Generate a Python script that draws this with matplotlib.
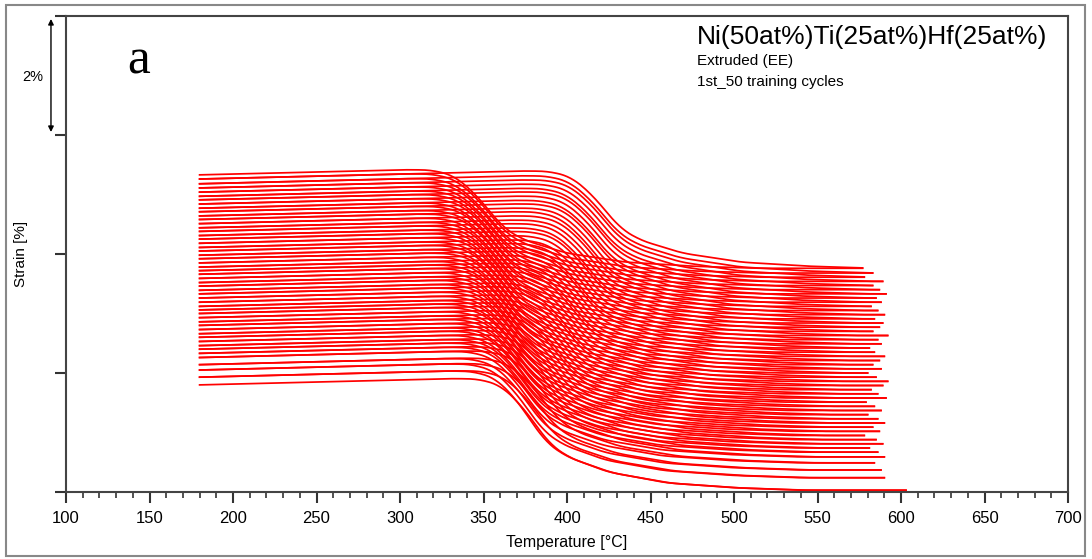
import numpy as np
import matplotlib
matplotlib.use("Agg")
import matplotlib.pyplot as plt
import matplotlib.transforms as mtransforms
from matplotlib.patches import Rectangle

plt.rcParams['font.family'] = ['Liberation Sans', 'DejaVu Sans']

# strain at 180 C (low-T end) for each cycle, bottom -> top (51 levels)
strain_low = [1.80, 1.93, 2.05, 2.14, 2.26, 2.33, 2.40, 2.46, 2.53, 2.60,
              2.66, 2.73, 2.80, 2.86, 2.93, 3.00, 3.06, 3.12, 3.19, 3.26,
              3.33, 3.39, 3.46, 3.52, 3.59, 3.66, 3.72, 3.78, 3.85, 3.92,
              3.98, 4.05, 4.11, 4.18, 4.25, 4.31, 4.38, 4.44, 4.51, 4.58,
              4.64, 4.71, 4.77, 4.84, 4.91, 4.97, 5.04, 5.11, 5.18, 5.26, 5.33]
# strain at the hot end of each cycle
strain_high = [0.03, 0.24, 0.37, 0.49, 0.59, 0.67, 0.74, 0.81, 0.88, 0.95,
               1.02, 1.09, 1.16, 1.23, 1.30, 1.37, 1.44, 1.51, 1.58, 1.65,
               1.72, 1.79, 1.86, 1.93, 2.00, 2.07, 2.14, 2.21, 2.28, 2.35,
               2.42, 2.49, 2.56, 2.63, 2.70, 2.77, 2.84, 2.91, 2.98, 3.05,
               3.12, 3.19, 3.26, 3.33, 3.40, 3.47, 3.54, 3.61, 3.68, 3.76]
# transformation centre on heating / cooling [C]
t_heat = [382, 384, 385, 387, 388, 389, 390, 391, 392, 393,
          394, 395, 396, 397, 397, 398, 399, 400, 401, 402,
          402, 403, 404, 405, 406, 406, 407, 408, 409, 410,
          410, 411, 412, 413, 414, 414, 415, 416, 417, 417,
          418, 419, 419, 420, 421, 421, 422, 423, 423, 424]
t_cool = [379, 378, 378, 377, 377, 376, 376, 375, 375, 374,
          374, 373, 373, 372, 372, 371, 371, 370, 370, 369,
          369, 368, 368, 367, 367, 366, 366, 365, 365, 364,
          364, 363, 363, 362, 362, 361, 361, 360, 360, 359,
          359, 358, 358, 357, 357, 356, 356, 355, 355, 354]
# max temperature reached in each cycle
t_max = [603, 590, 588, 584, 590, 586, 581, 589, 585, 578,
         587, 583, 590, 586, 580, 588, 584, 579, 591, 586,
         582, 589, 592, 585, 580, 588, 583, 587, 590, 584,
         581, 588, 586, 592, 583, 587, 589, 584, 590, 586,
         582, 588, 585, 591, 587, 583, 589, 578, 583, 577]
t_min = 180

# shape of the transition (offset from centre, fraction left)
shape_dT = [-50, -35, -22, -10, 0, 8, 20, 45, 80, 120, 160]
shape_frac = [1.0, 0.99, 0.93, 0.76, 0.56, 0.40, 0.28, 0.15, 0.06, 0.02, 0.0]
low_slope = 0.0007


def branch(T, centre):
    # fine grid so the profile can be smoothed before sampling
    g = np.arange(-200, 301, 1.0)
    p = np.interp(g, shape_dT, shape_frac)
    w = np.ones(13) / 13
    p = np.convolve(np.pad(p, 6, mode='edge'), w, mode='valid')
    return np.interp(T - centre, g, p)


fig = plt.figure(figsize=(10.92, 5.59), dpi=100)
ax = fig.add_axes([66/1092, 1-492/559, 1002/1092, 476/559])

for k in range(len(strain_high)):
    T = np.arange(t_min, t_max[k] + 1, 1.0)
    f = branch(T, t_heat[k])
    top = strain_low[k] + low_slope*(T - t_min)
    ax.plot(T, strain_high[k] + (top - strain_high[k])*f, color='#ff0000', lw=1.25)
    f = branch(T, t_cool[k])
    top = strain_low[k+1] + low_slope*(T - t_min)
    ax.plot(T, strain_high[k] + (top - strain_high[k])*f, color='#ff0000', lw=1.25)

ax.set_xlim(100, 700)
ax.set_ylim(0, 8)
ax.set_xticks(np.arange(100, 701, 50))
ax.set_xticks(np.arange(100, 701, 10), minor=True)
ax.set_yticks([0, 2, 4, 6, 8])
ax.set_yticklabels([])
ax.tick_params(axis='x', which='major', direction='out', length=8, width=1.5,
               color='#333333', labelsize=12, pad=6)
ax.tick_params(axis='x', which='minor', direction='out', length=4, width=1.2,
               color='#333333')
ax.tick_params(axis='y', direction='out', length=8, width=1.5, color='#333333')
for s in ax.spines.values():
    s.set_color('#444444')
    s.set_linewidth(1.5)

ax.set_xlabel('Temperature [°C]', fontsize=11.5, labelpad=6)
ax.set_ylabel('Strain [%]', fontsize=11, labelpad=16)

ax.text(0.63, 0.955, 'Ni(50at%)Ti(25at%)Hf(25at%)', transform=ax.transAxes,
        fontsize=19, va='center', ha='left')
ax.text(0.63, 0.905, 'Extruded (EE)', transform=ax.transAxes, fontsize=11, va='center')
ax.text(0.63, 0.862, '1st_50 training cycles', transform=ax.transAxes, fontsize=11, va='center')
ax.text(0.072, 0.905, 'a', transform=ax.transAxes, fontsize=37,
        family='Liberation Serif', ha='center', va='center')

trans = mtransforms.blended_transform_factory(ax.transAxes, ax.transData)
ax.annotate('', xy=(-0.015, 7.95), xytext=(-0.015, 6.05), xycoords=trans,
            textcoords=trans, annotation_clip=False,
            arrowprops=dict(arrowstyle='<|-|>', color='black', lw=1.0,
                            mutation_scale=8, shrinkA=0, shrinkB=0))
ax.text(-0.033, 6.97, '2%', transform=trans, fontsize=10.5, ha='center', va='center')

fig.patches.append(Rectangle((6/1092, 3/559), 1079/1092, 551/559, transform=fig.transFigure,
                             fill=False, edgecolor='#888888', lw=1.5))

fig.savefig('out.png', dpi=100)
